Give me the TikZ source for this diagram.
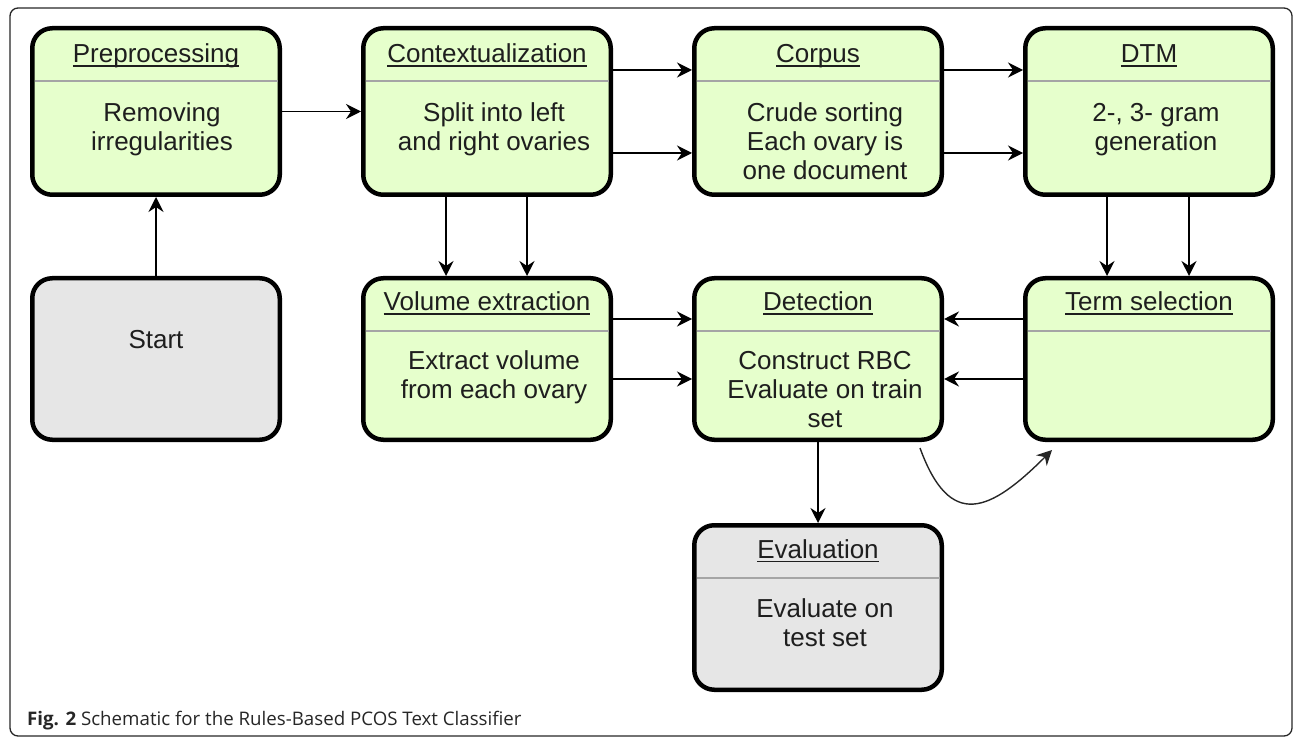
\documentclass[tikz,border=0pt]{standalone}
\usepackage{fontspec}
\setmainfont{Liberation Sans}
\newfontfamily\capfont{Open Sans}
\usepackage{xcolor}
\usetikzlibrary{arrows.meta,positioning,calc}
\definecolor{stagegreen}{RGB}{230,255,204}
\definecolor{stagegray}{RGB}{230,230,230}
\definecolor{rulegray}{RGB}{165,165,165}
\definecolor{textdark}{RGB}{30,30,30}

% underlined stage heading (rule cuts through the descenders)
\newsavebox{\headbox}
\newcommand{\headul}[1]{\sbox{\headbox}{#1}\rlap{\rule[-4pt]{\wd\headbox}{1.5pt}}\usebox{\headbox}}

\begin{document}
\begin{tikzpicture}[
    x=1pt, y=1pt,
    node distance=79pt,
    stage/.style={rectangle, draw=black, line width=4.5pt, rounded corners=20pt, fill=stagegreen, minimum width=247.5pt},
    endstage/.style={stage, fill=stagegray},
    heading/.style={font=\fontsize{26}{29}\selectfont, text=textdark, inner sep=0pt, anchor=base},
    bodytext/.style={font=\fontsize{26}{29}\selectfont, text=textdark, inner sep=0pt, align=center, anchor=north},
    headrule/.style={draw=rulegray, line width=1.5pt},
    arrow/.style={-{Stealth[length=15pt,width=15pt,inset=5pt]}, line width=1.7pt},
    curvearrow/.style={-{Stealth[length=15pt,width=15pt,inset=5pt]}, line width=1.4pt, draw=black!85}
]
    \useasboundingbox (0,0) rectangle (1295,737);

    % Frame and caption
    \draw[line width=1.3pt, draw=black!85, rounded corners=8pt] (10,729) rectangle (1292,1);
    \node[anchor=base west, inner sep=0pt, text=black!85, font=\capfont\fontsize{18.7}{22}\selectfont] (caption) at (27,12)
        {\textbf{Fig. 2} Schematic for the Rules-Based PCOS Text Classifier};

    % Top row
    \node[stage, minimum height=166.5pt] (pre) at (156,625.5) {};
    \node[stage, minimum height=166.5pt, right=of pre] (ctx) {};
    \node[stage, minimum height=166.5pt, right=of ctx] (corpus) {};
    \node[stage, minimum height=166.5pt, right=of corpus] (dtm) {};

    % Middle row
    \node[endstage, minimum height=161.5pt, below=of pre] (start) {};
    \node[stage, minimum height=161.5pt, below=of ctx] (vol) {};
    \node[stage, minimum height=161.5pt, below=of corpus] (det) {};
    \node[stage, minimum height=161.5pt, below=of dtm] (term) {};

    % Bottom row
    \node[endstage, minimum height=164.5pt, below=81pt of det] (eval) {};

    % Header rules
    \foreach \s in {pre,ctx,corpus,dtm,vol,det,term,eval}
        \draw[headrule] ([shift={(4.5pt,-55pt)}]\s.north west) -- ([shift={(-4.5pt,-55pt)}]\s.north east);

    % Headings
    \node[heading] (pre-h) at ([yshift=-37pt]pre.north) {\headul{Preprocessing}};
    \node[heading] (ctx-h) at ([yshift=-37pt]ctx.north) {\headul{Contextualization}};
    \node[heading] (corpus-h) at ([yshift=-37pt]corpus.north) {\headul{Corpus}};
    \node[heading] (dtm-h) at ([yshift=-37pt]dtm.north) {\headul{DTM}};
    \node[heading] (vol-h) at ([yshift=-35pt]vol.north) {\headul{Volume extraction}};
    \node[heading] (det-h) at ([yshift=-35pt]det.north) {\headul{Detection}};
    \node[heading] (term-h) at ([yshift=-35pt]term.north) {\headul{Term selection}};
    \node[heading] (eval-h) at ([yshift=-35pt]eval.north) {\headul{Evaluation}};
    \node[heading] (start-h) at ([yshift=-73pt]start.north) {Start};

    % Body texts
    \node[bodytext] (pre-b) at ([shift={(6pt,-75.5pt)}]pre.north) {\strut Removing\\irregularities};
    \node[bodytext] (ctx-b) at ([shift={(7pt,-75.5pt)}]ctx.north) {\strut Split into left\\and right ovaries};
    \node[bodytext] (corpus-b) at ([shift={(7pt,-75.5pt)}]corpus.north) {\strut Crude sorting\\Each ovary is\\one document};
    \node[bodytext] (dtm-b) at ([shift={(7pt,-75.5pt)}]dtm.north) {\strut 2-, 3- gram\\generation};
    \node[bodytext] (vol-b) at ([shift={(7pt,-73.5pt)}]vol.north) {\strut Extract volume\\from each ovary};
    \node[bodytext] (det-b) at ([shift={(7pt,-73.5pt)}]det.north) {\strut Construct RBC\\Evaluate on train\\set};
    \node[bodytext] (eval-b) at ([shift={(7pt,-73.5pt)}]eval.north) {\strut Evaluate on\\test set};

    % Connectors
    \draw[arrow] (start) -- (pre);
    \draw[arrow] (pre) -- (ctx);
    \draw[arrow] ([yshift=41.5pt]ctx.east) -- ([yshift=41.5pt]corpus.west);
    \draw[arrow] ([yshift=-41.5pt]ctx.east) -- ([yshift=-41.5pt]corpus.west);
    \draw[arrow] ([yshift=41.5pt]corpus.east) -- ([yshift=41.5pt]dtm.west);
    \draw[arrow] ([yshift=-41.5pt]corpus.east) -- ([yshift=-41.5pt]dtm.west);
    \draw[arrow] ([xshift=-41pt]ctx.south) -- ([xshift=-41pt]vol.north);
    \draw[arrow] ([xshift=40pt]ctx.south) -- ([xshift=40pt]vol.north);
    \draw[arrow] ([xshift=-42pt]dtm.south) -- ([xshift=-42pt]term.north);
    \draw[arrow] ([xshift=40pt]dtm.south) -- ([xshift=40pt]term.north);
    \draw[arrow] ([yshift=40pt]vol.east) -- ([yshift=40pt]det.west);
    \draw[arrow] ([yshift=-20pt]vol.east) -- ([yshift=-20pt]det.west);
    \draw[arrow] ([yshift=40pt]term.west) -- ([yshift=40pt]det.east);
    \draw[arrow] ([yshift=-20pt]term.west) -- ([yshift=-20pt]det.east);
    \draw[arrow] (det) -- (eval);
    \draw[curvearrow] ([shift={(-24pt,-6pt)}]det.south east) to[out=-70, in=-135, looseness=1.7] ([shift={(29pt,-8pt)}]term.south west);
\end{tikzpicture}
\end{document}
